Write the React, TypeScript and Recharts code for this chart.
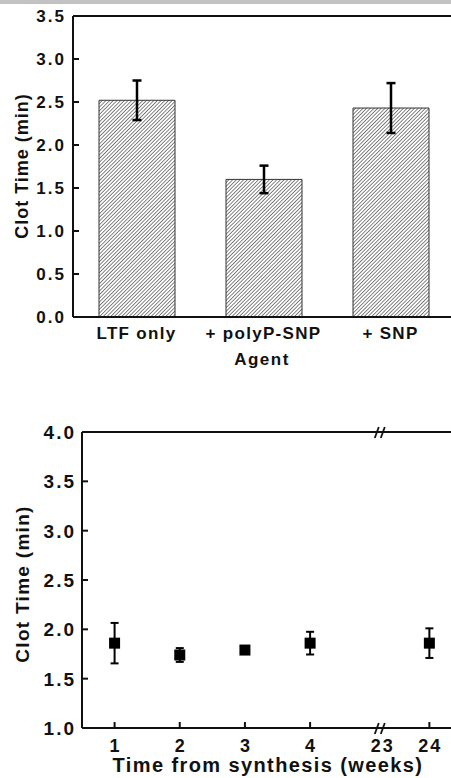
import React from "react";
import {
  BarChart,
  Bar,
  XAxis,
  YAxis,
  ErrorBar,
  ReferenceLine,
  ReferenceDot,
  ScatterChart,
  Scatter,
} from "recharts";

// --- top panel: clot time by agent
const agents = ["LTF only", "+ polyP-SNP", "+ SNP"];
const agentClotTimes = [2.52, 1.6, 2.43];
const agentClotErrors = [0.23, 0.16, 0.29];
const agentTicks = [0, 0.5, 1, 1.5, 2, 2.5, 3, 3.5];

// --- bottom panel: clot time vs. time from synthesis
const weeks = [1, 2, 3, 4, 24];
const weekClotTimes = [1.86, 1.74, 1.79, 1.86, 1.86];
const weekClotErrors = [0.205, 0.07, 0.02, 0.115, 0.15];
const weekTickValues = [1, 2, 3, 4, 23, 24];
const weekTickLabels = ["1", "2", "3", "4", "23", "24"];
const weekTicks = [1, 1.5, 2, 2.5, 3, 3.5, 4];

// broken x axis: weeks 1-4 are linear, then a break, then 23-24
const BREAK_POS = 5.1;
const toAxis = (w: number) => (w <= 4 ? w : 5.1 + (w - 23) * 0.73);

const FONT = "'Liberation Sans', Arial, sans-serif";
const INK = "#111";

const barData = agents.map((agent, i) => ({
  agent,
  time: agentClotTimes[i],
  err: agentClotErrors[i],
}));

const weekData = weeks.map((w, i) => ({
  pos: toAxis(w),
  time: weekClotTimes[i],
  err: weekClotErrors[i],
}));

const weekTickPositions = weekTickValues.map(toAxis);

// y ticks point inward, label sits left of the axis
const ValueTick = (props: any) => {
  const { x, y, payload, gap, fontSize } = props;
  const axisX = x + gap;
  return (
    <g>
      <line x1={axisX} x2={axisX + 6} y1={y} y2={y} stroke={INK} strokeWidth={2} />
      <text
        x={x + 2}
        y={y}
        dy="0.36em"
        textAnchor="end"
        fontFamily={FONT}
        fontWeight="bold"
        fontSize={fontSize}
        letterSpacing={2}
        fill={INK}
      >
        {Number(payload.value).toFixed(1)}
      </text>
    </g>
  );
};

const AgentTick = (props: any) => {
  const { x, y, payload } = props;
  return (
    <text
      x={x}
      y={y}
      dy="0.71em"
      textAnchor="middle"
      fontFamily={FONT}
      fontWeight="bold"
      fontSize={17}
      letterSpacing={1.3}
      fill={INK}
    >
      {payload.value}
    </text>
  );
};

const WeekTick = (props: any) => {
  const { x, y, index } = props;
  const axisY = y - 11;
  const label = weekTickLabels[index];
  return (
    <g>
      {label !== "23" && (
        <line x1={x} x2={x} y1={axisY} y2={axisY - 6} stroke={INK} strokeWidth={2} />
      )}
      <text
        x={x + 1}
        y={y}
        dy="0.71em"
        textAnchor="middle"
        fontFamily={FONT}
        fontWeight="bold"
        fontSize={18}
        letterSpacing={2}
        fill={INK}
      >
        {label}
      </text>
    </g>
  );
};

const BreakMark = (props: any) => {
  const { cx, cy } = props;
  return (
    <g>
      <line x1={cx - 7} y1={cy + 6} x2={cx - 3} y2={cy - 5} stroke={INK} strokeWidth={1.8} />
      <line x1={cx - 1} y1={cy + 6} x2={cx + 3} y2={cy - 5} stroke={INK} strokeWidth={1.8} />
    </g>
  );
};

const Square = (props: any) => {
  const { cx, cy } = props;
  return <rect x={cx - 5.5} y={cy - 5.5} width={11} height={11} fill="#000" />;
};

const title = (text: string, x: number, y: number, size: number, spacing: number, rotate = false) =>
  () => (
    <text
      x={x}
      y={y}
      textAnchor="middle"
      transform={rotate ? `rotate(-90, ${x}, ${y})` : undefined}
      fontFamily={FONT}
      fontWeight="bold"
      fontSize={size}
      letterSpacing={spacing}
      fill={INK}
    >
      {text}
    </text>
  );

export default function App() {
  return (
    <div
      style={{
        position: "absolute",
        left: 0,
        top: 0,
        width: 451,
        height: 778,
        overflow: "hidden",
        background: "#fff",
      }}
    >
      <div style={{ position: "absolute", left: 0, top: 0, width: 451, height: 4, background: "#c2c2c2" }} />

      <div style={{ position: "absolute", left: 0, top: 0 }}>
        <BarChart
          width={470}
          height={400}
          data={barData}
          margin={{ top: 16, right: 16, bottom: 23, left: 0 }}
          barSize={76}
        >
          <defs>
            <pattern
              id="hatch"
              width="2.6"
              height="2.6"
              patternUnits="userSpaceOnUse"
              patternTransform="rotate(45)"
            >
              <rect width="2.6" height="2.6" fill="#fff" />
              <line x1="0" y1="0" x2="0" y2="2.6" stroke="#333" strokeWidth="1.2" />
            </pattern>
          </defs>
          <XAxis
            dataKey="agent"
            height={60}
            interval={0}
            axisLine={{ stroke: INK, strokeWidth: 2 }}
            tickLine={false}
            tickSize={0}
            tickMargin={10}
            tick={<AgentTick />}
            label={title("Agent", 262, 365, 17, 1.5)}
          />
          <YAxis
            width={73}
            domain={[0, 3.5]}
            ticks={agentTicks}
            interval={0}
            axisLine={{ stroke: INK, strokeWidth: 2 }}
            tickLine={false}
            tickSize={0}
            tickMargin={9}
            tick={<ValueTick gap={9} fontSize={17} />}
            label={title("Clot Time (min)", 28, 166, 18, 1, true)}
          />
          <ReferenceLine y={3.5} stroke={INK} strokeWidth={2} />
          <Bar
            dataKey="time"
            fill="url(#hatch)"
            stroke="#333"
            strokeWidth={1}
            isAnimationActive={false}
          >
            <ErrorBar dataKey="err" direction="y" width={4.5} stroke="#000" strokeWidth={2.5} />
          </Bar>
        </BarChart>
      </div>

      <div style={{ position: "absolute", left: 0, top: 400 }}>
        <ScatterChart
          width={470}
          height={378}
          margin={{ top: 32, right: 10, bottom: 0, left: 0 }}
        >
          <XAxis
            type="number"
            dataKey="pos"
            domain={[0.5, 6.3]}
            ticks={weekTickPositions}
            interval={0}
            height={50}
            axisLine={{ stroke: INK, strokeWidth: 2 }}
            tickLine={false}
            tickSize={0}
            tickMargin={11}
            tick={<WeekTick />}
            label={title("Time from synthesis (weeks)", 268, 372, 20, 1.4)}
          />
          <YAxis
            type="number"
            dataKey="time"
            width={82}
            domain={[1, 4]}
            ticks={weekTicks}
            interval={0}
            axisLine={{ stroke: INK, strokeWidth: 2 }}
            tickLine={false}
            tickSize={0}
            tickMargin={8}
            tick={<ValueTick gap={8} fontSize={19} />}
            label={title("Clot Time (min)", 29, 184, 19, 1.3, true)}
          />
          <ReferenceLine y={4} stroke={INK} strokeWidth={2} />
          <Scatter data={weekData} shape={<Square />} isAnimationActive={false}>
            <ErrorBar dataKey="err" direction="y" width={4} stroke="#000" strokeWidth={2} />
          </Scatter>
          <ReferenceDot x={BREAK_POS} y={1} ifOverflow="visible" shape={<BreakMark />} />
          <ReferenceDot x={BREAK_POS} y={4} ifOverflow="visible" shape={<BreakMark />} />
        </ScatterChart>
      </div>
    </div>
  );
}
